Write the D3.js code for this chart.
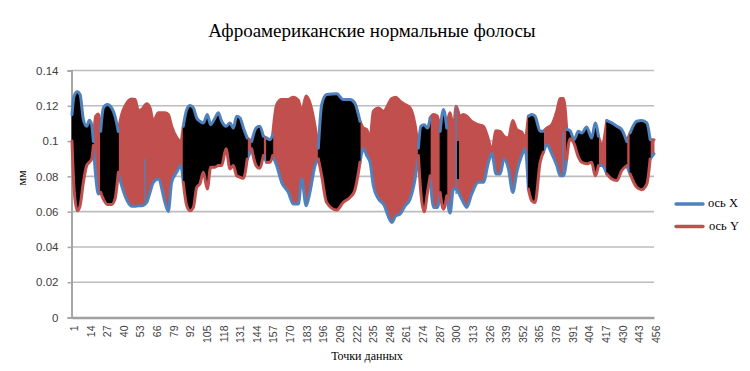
<!DOCTYPE html>
<html>
<head>
<meta charset="utf-8">
<script src="https://cdn.jsdelivr.net/npm/d3@7"></script>
<style>
  html, body { margin: 0; padding: 0; background: #fff; }
  svg { display: block; }
</style>
</head>
<body>
<svg id="chart" width="750" height="371"></svg>
<script>
// Texts
var chartTitle = "Афроамериканские нормальные фолосы";
var xTitle = "Точки данных";
var yTitle = "мм";
var seriesNames = ["ось X", "ось Y"];

// Axis ticks
var yTicks = [0, 0.02, 0.04, 0.06, 0.08, 0.1, 0.12, 0.14];
var xTicks = [1, 14, 27, 40, 53, 66, 79, 92, 105, 118, 131, 144, 157, 170, 183, 196, 209, 222, 235,
  248, 261, 274, 287, 300, 313, 326, 339, 352, 365, 378, 391, 404, 417, 430, 443, 456];

// Envelope of the two oscillating series
var sampleIdx = [1, 2.6, 5.2, 7.3, 9.9, 12.5, 14.6, 16.4, 17.7, 19.5, 21.6, 23.4, 25.5, 28.6, 32, 34.6, 37.2,
  39.8, 42.4, 47.7, 50.3, 52.9, 55.5, 59.4, 62, 64.6, 68.5, 73.7, 76.3, 78.9, 82.8, 86, 88,
  90.7, 93.3, 95.9, 98.5, 101, 103.7, 106.8, 109.4, 112.8, 115.4, 118, 121.4, 124.5, 127.1, 129.7, 132.4, 135, 138,
  141.5, 144.9, 147.5, 150.6, 153.2, 155.8, 157.9, 161, 164.9, 170.1, 174, 178, 180.6, 184, 187, 191, 193.6,
  196.2, 200, 208, 213, 218.4, 222, 226.2, 228.8, 231.4, 234, 236.6, 240.6, 244.5, 251, 254.1, 257.5, 261.4, 265.3, 269.2, 271.8,
  273.7, 276.3, 278.9, 281, 283.6, 286.7, 288.8, 291.4, 294, 296.6, 299.2, 301.3, 304.4, 307, 309.6, 313.5, 318.7, 322.6, 326.6, 329.2,
  332.5, 335.7, 338.8, 342.2, 345.6, 348.7, 352.6, 355.2, 357.8, 360.4, 363, 367, 369.6, 372.2, 376.1, 380, 382.6, 385.2, 387.8, 390.4,
  393.5, 396.9, 399.5, 403.4, 407.3, 410, 412.6, 415.2, 419.1, 423, 426.9, 430.8, 434.7, 437.3, 442.5, 446.4, 450.4, 453, 456];
var upperEdge = [.115, .1255, .1279, .1264, .1122, .1084, .1118, .1093, .0998, .1141, .1154, .1055, .1188, .1207, .1188, .1141, .1055,
  .115, .1198, .1239, .1236, .1173, .1179, .1211, .1188, .1112, .116, .116, .115, .1084, .1021, .0998, .1084,
  .1179, .1201, .1188, .1131, .1112, .1103, .115, .1093, .1131, .116, .1112, .1084, .1103, .1074, .1141, .1131, .1074, .1017,
  .0998, .1074, .1084, .1027, .1017, .1008, .1036, .1207, .1236, .1236, .1249, .123, .1169, .1255, .1217, .1084, .096,
  .1207, .1264, .1268, .1236, .1236, .1217, .1112, .1074, .1065, .1017, .1169, .1188, .1169, .1241, .1249, .1226, .1207, .1188, .1093, .096,
  .1084, .1093, .1074, .1131, .115, .1141, .1055, .1179, .1074, .116, .1074, .1198, .1141, .115, .1141, .1112, .1093, .1084, .1008, .0945,
  .1059, .1055, .1027, .1017, .1116, .1065, .1051, .1017, .1141, .115, .1141, .1055, .1055, .1074, .1093, .1169, .1241, .1241, .1065, .1059,
  .1008, .1055, .1046, .108, .1017, .1103, .1027, .0979, .1116, .1103, .1084, .1065, .0998, .1046, .1112, .1116, .1103, .1008, .1008];
var lowerEdge = [.1, .0728, .0605, .0633, .0766, .0861, .088, .0899, .0975, .0804, .07, .0709, .0671, .0641, .0641, .0671, .0823,
  .0747, .069, .063, .063, .0633, .0633, .0652, .0709, .0766, .0785, .0652, .0601, .0766, .0823, .0861, .0766,
  .0633, .0605, .0624, .0738, .0757, .0823, .0728, .0852, .0852, .0861, .0861, .0956, .0842, .0861, .0804, .0795, .0789, .0899,
  .0956, .0861, .0846, .0918, .088, .088, .0918, .0861, .0766, .0709, .0643, .0643, .0785, .0633, .0709, .0861, .0899,
  .0804, .0652, .0609, .0652, .0681, .0719, .088, .0956, .0918, .088, .0747, .0671, .0643, .0538, .0576, .0586, .0633, .0671, .0785, .0918,
  .0709, .0599, .0709, .0804, .0624, .0624, .0709, .0614, .069, .0592, .0728, .0728, .069, .0652, .0624, .07, .0766, .0766, .088, .093,
  .0814, .0814, .0899, .0842, .0709, .0823, .0918, .0956, .0728, .0662, .0652, .088, .0937, .0979, .0928, .0861, .0804, .0804, .0899, .1013,
  .0985, .0909, .088, .0871, .088, .0804, .0861, .0861, .0814, .0785, .0776, .0833, .0861, .0814, .0738, .0724, .0757, .0899, .0928];

// Stretches where the two series overlap to black, as point ranges
var darkZones = [[1, 17.7], [23.4, 37.2], [88, 138], [141.5, 150.6], [153.2, 157.9], [193.6, 226.2],
  [271.8, 281], [288.8, 294], [357.8, 369.6], [387.8, 412.6], [419.1, 434.7], [437.3, 453]];
// Stretches where the Y series lies on top
var redZones = [[17.7, 23.4], [37.2, 88], [138, 141.5], [150.6, 153.2], [157.9, 193.6], [226.2, 271.8],
  [281, 288.8], [294, 357.8], [369.6, 387.8], [412.6, 419.1], [434.7, 437.3], [453, 456]];

// Single thin spikes: point, low, high
var blueSpikes = [[58, .066, .09], [301.3, .07, .1198], [385, .0804, .105]];
var darkSpikes = [[302.8, .0785, .1]];

var colorX = "#4f81bd", colorY = "#c0504d";
var svg = d3.select("#chart");

// Scales
var xScale = d3.scaleLinear().domain([1, 456]).range([72, 654]);
var yScale = d3.scaleLinear().domain([0, 0.14]).range([317.5, 70.5]);

// Soft edges, the original is a blurred bitmap
svg.append("defs").append("filter")
    .attr("id", "soft")
    .attr("x", "-5%").attr("y", "-5%").attr("width", "110%").attr("height", "110%")
  .append("feGaussianBlur")
    .attr("stdDeviation", 0.6);

// Grid
svg.append("g")
  .selectAll("line")
  .data(yTicks.slice(1))
  .enter().append("line")
    .attr("x1", xScale(1) - 1)
    .attr("x2", xScale(456))
    .attr("y1", d => yScale(d))
    .attr("y2", d => yScale(d))
    .attr("stroke", "#bdbdbd")
    .attr("stroke-width", 1.6);

// Y axis
var yAxis = svg.append("g")
    .attr("transform", "translate(" + (xScale(1) - 0.5) + ",0)")
    .call(d3.axisLeft(yScale).tickValues(yTicks).tickFormat(d => d3.format("~g")(d)).tickSize(4).tickPadding(9));
yAxis.select(".domain").attr("stroke", "#a6a6a6").attr("stroke-width", 2);
yAxis.selectAll(".tick line").attr("stroke", "#a6a6a6").attr("stroke-width", 1.5);
yAxis.selectAll("text")
    .attr("fill", "#404040")
    .style("font-family", "'Liberation Sans', Arial, sans-serif")
    .style("font-size", "11.5px");

// X axis
var xAxis = svg.append("g")
    .attr("transform", "translate(0," + yScale(0) + ")")
    .call(d3.axisBottom(xScale).tickValues(xTicks).tickFormat(d3.format("d")).tickSize(0));
xAxis.select(".domain").attr("stroke", "#a0a0a0").attr("stroke-width", 2.6);
xAxis.selectAll("text")
    .attr("transform", "rotate(-90)")
    .attr("text-anchor", "end")
    .attr("x", -8)
    .attr("y", 2)
    .attr("dy", "0.32em")
    .attr("fill", "#404040")
    .style("font-family", "'Liberation Sans', Arial, sans-serif")
    .style("font-size", "10.5px");

// Turn the sample arrays into rows for one point range
var samples = sampleIdx.map((d, i) => ({ i: d, up: upperEdge[i], lo: lowerEdge[i] }));
function inZone(zone) {
  return samples.filter(d => d.i >= zone[0] && d.i <= zone[1]);
}

var band = d3.area().x(d => xScale(d.i)).y0(d => yScale(d.lo)).y1(d => yScale(d.up)).curve(d3.curveMonotoneX);
var upLine = d3.line().x(d => xScale(d.i)).y(d => yScale(d.up)).curve(d3.curveMonotoneX);
var loLine = d3.line().x(d => xScale(d.i)).y(d => yScale(d.lo)).curve(d3.curveMonotoneX);

var marks = svg.append("g").attr("filter", "url(#soft)");

function drawZone(zone, fill, topColor, bottomColor) {
  var rows = inZone(zone);
  marks.append("path").attr("d", band(rows)).attr("fill", fill).attr("stroke", fill).attr("stroke-width", 1);
  marks.append("path").attr("d", upLine(rows)).attr("fill", "none").attr("stroke", topColor).attr("stroke-width", 3).attr("stroke-linejoin", "round").attr("stroke-linecap", "round");
  marks.append("path").attr("d", loLine(rows)).attr("fill", "none").attr("stroke", bottomColor).attr("stroke-width", 3).attr("stroke-linejoin", "round").attr("stroke-linecap", "round");
}

redZones.forEach(z => drawZone(z, colorY, colorY, colorX));
darkZones.forEach(z => drawZone(z, "#000", colorX, colorY));

// Spikes
function drawSpikes(list, color, width) {
  marks.selectAll(null)
    .data(list)
    .enter().append("line")
      .attr("x1", d => xScale(d[0]))
      .attr("x2", d => xScale(d[0]))
      .attr("y1", d => yScale(d[1]))
      .attr("y2", d => yScale(d[2]))
      .attr("stroke", color)
      .attr("stroke-width", width);
}
drawSpikes(blueSpikes, colorX, 1.4);
drawSpikes(darkSpikes, "#000", 2);

// Titles
var serif = "'Liberation Serif', 'Times New Roman', serif";
svg.append("text")
    .attr("x", 372).attr("y", 37)
    .attr("text-anchor", "middle")
    .style("font-family", serif).style("font-size", "19px")
    .text(chartTitle);
svg.append("text")
    .attr("x", 367).attr("y", 360)
    .attr("text-anchor", "middle")
    .style("font-family", serif).style("font-size", "12px")
    .text(xTitle);
svg.append("text")
    .attr("transform", "translate(26,178) rotate(-90)")
    .attr("text-anchor", "middle")
    .style("font-family", serif).style("font-size", "12px")
    .text(yTitle);

// Legend
var legend = svg.append("g");
seriesNames.forEach(function(name, i) {
  var ly = 204 + i * 22.5;
  legend.append("line")
      .attr("x1", 676).attr("x2", 703)
      .attr("y1", ly).attr("y2", ly)
      .attr("stroke", i === 0 ? colorX : colorY)
      .attr("stroke-width", 3.4)
      .attr("stroke-linecap", "round");
  legend.append("text")
      .attr("x", 708 + i).attr("y", ly + 3)
      .style("font-family", serif).style("font-size", "12.5px")
      .text(name);
});
</script>
</body>
</html>
